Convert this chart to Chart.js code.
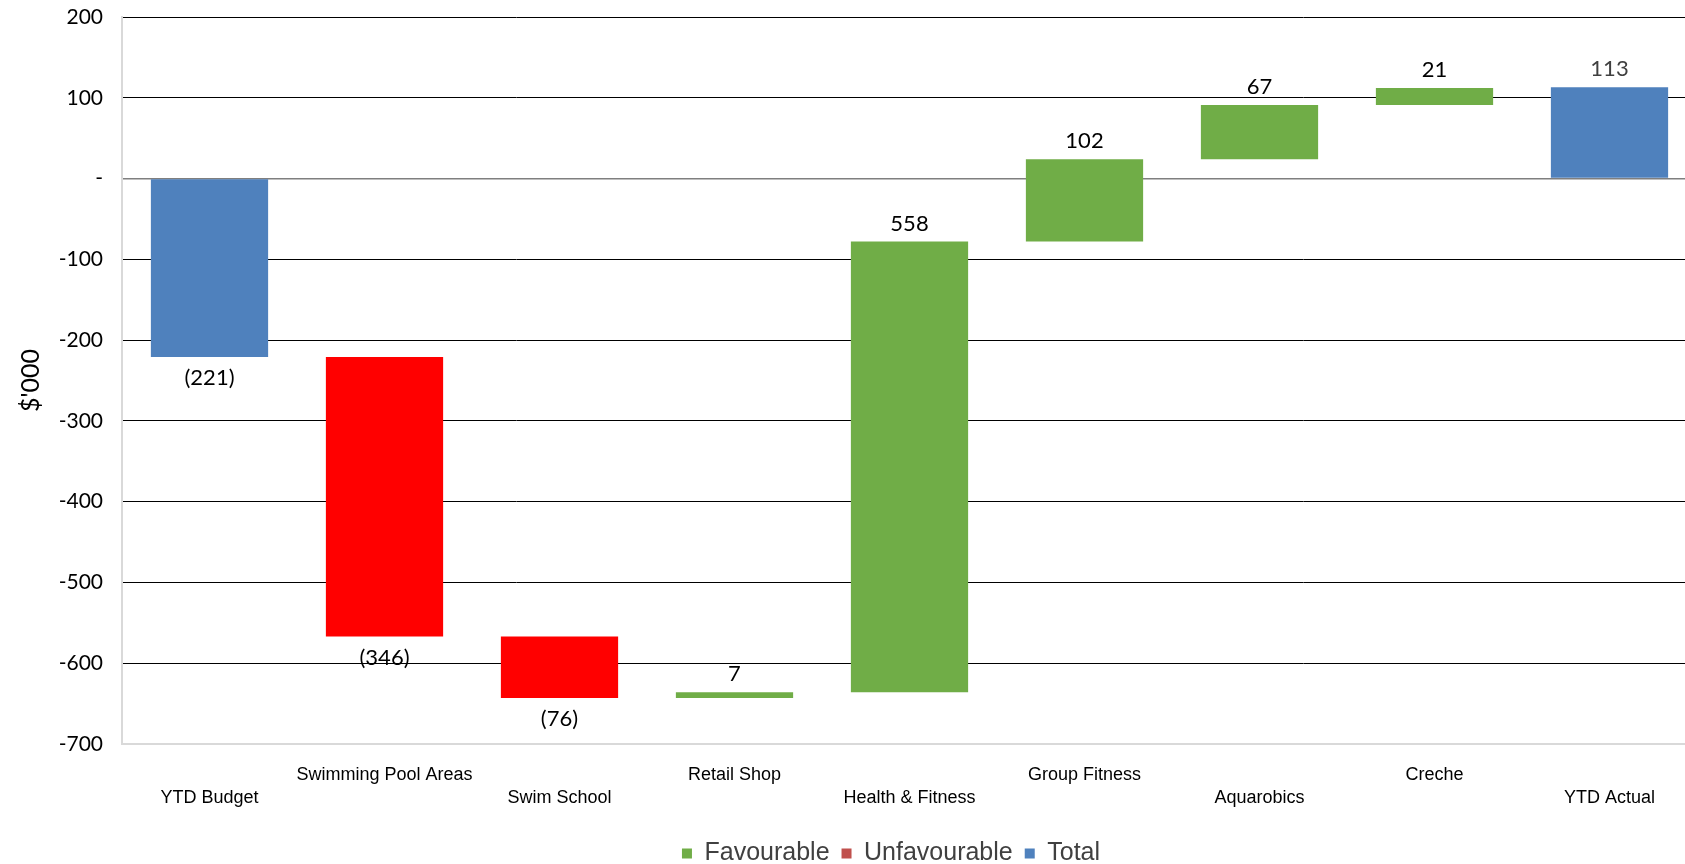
<!DOCTYPE html>
<html>
<head>
<meta charset="utf-8">
<script src="https://cdn.jsdelivr.net/npm/chart.js@4/dist/chart.umd.min.js"></script>
<style>
  html, body { margin: 0; padding: 0; background: #fff; overflow: hidden; }
  canvas { display: block; }
</style>
</head>
<body>
<canvas id="waterfall" width="1782" height="864"></canvas>
<script>
// categories and variances ($'000)
const categories = ['YTD Budget', 'Swimming Pool Areas', 'Swim School', 'Retail Shop',
  'Health & Fitness', 'Group Fitness', 'Aquarobics', 'Creche', 'YTD Actual'];
const variances = [-221, -346, -76, 7, 558, 102, 67, 21, 113];
const kinds = ['total', 'unfav', 'unfav', 'fav', 'fav', 'fav', 'fav', 'fav', 'total'];
const yTicks = { min: -700, max: 200, step: 100 };

const GREEN = '#70AD47', RED = '#FF0000', BLUE = '#4F81BD';

// build floating bars [start, end] from running total
let running = 0;
const favData = [], unfavData = [], totalData = [];
variances.forEach((v, i) => {
  let bar;
  if (kinds[i] === 'total') {
    bar = [0, v];
    running = v;
  } else {
    bar = [running, running + v];
    running += v;
  }
  favData.push(kinds[i] === 'fav' ? bar : null);
  unfavData.push(kinds[i] === 'unfav' ? bar : null);
  totalData.push(kinds[i] === 'total' ? bar : null);
});

// staggered x labels: odd ones on the upper row
const xLabels = categories.map((c, i) => i % 2 === 1 ? [c, ''] : ['', c]);

function fmt(v) {
  return v < 0 ? '(' + Math.abs(v) + ')' : String(v);
}

// draws the value labels above/below each bar
const valueLabels = {
  id: 'valueLabels',
  afterDatasetsDraw(chart) {
    const ctx = chart.ctx;
    ctx.save();
    ctx.font = '22px Lato';
    ctx.textAlign = 'center';
    ctx.textBaseline = 'middle';
    chart.data.datasets.forEach((ds, di) => {
      const meta = chart.getDatasetMeta(di);
      meta.data.forEach((bar, i) => {
        if (ds.data[i] == null) return;
        const v = variances[i];
        const top = Math.min(bar.y, bar.base);
        const bottom = Math.max(bar.y, bar.base);
        ctx.fillStyle = i === categories.length - 1 ? '#404040' : '#000';
        if (v >= 0) ctx.fillText(fmt(v), bar.x, top - 18);
        else ctx.fillText(fmt(v), bar.x, bottom + 21);
      });
    });
    ctx.restore();
  }
};

// the original chart was cropped on the right, so the legend sits right of the canvas middle
const legendCenterX = 891;
const shiftLegend = {
  id: 'shiftLegend',
  afterLayout(chart) {
    const lg = chart.legend;
    const dx = legendCenterX - (lg.left + lg.right) / 2;
    lg.left += dx;
    lg.right += dx;
  }
};

const barOpts = { grouped: false, categoryPercentage: 1, barPercentage: 0.67, borderWidth: 0 };

new Chart(document.getElementById('waterfall').getContext('2d'), {
  type: 'bar',
  data: {
    labels: xLabels,
    datasets: [
      Object.assign({ label: 'Favourable', data: favData, backgroundColor: GREEN }, barOpts),
      Object.assign({ label: 'Unfavourable', data: unfavData, backgroundColor: RED }, barOpts),
      Object.assign({ label: 'Total', data: totalData, backgroundColor: BLUE }, barOpts)
    ]
  },
  options: {
    responsive: false,
    animation: false,
    layout: { padding: { top: 17, right: 85, left: 0, bottom: -12 } },
    plugins: {
      tooltip: { enabled: false },
      legend: {
        position: 'bottom',
        labels: {
          font: { family: 'Liberation Sans', size: 25 },
          color: '#404040',
          boxWidth: 10,
          boxHeight: 10,
          padding: 12,
          generateLabels(chart) {
            const swatch = [GREEN, '#C0504D', BLUE];
            return chart.data.datasets.map((ds, i) => ({
              text: ds.label, fillStyle: swatch[i], strokeStyle: swatch[i],
              lineWidth: 0, hidden: false, datasetIndex: i, fontColor: '#404040'
            }));
          }
        }
      }
    },
    scales: {
      x: {
        grid: { display: false },
        border: { color: '#d9d9d9', width: 2 },
        afterFit(scale) { scale.height += 8; },
        ticks: {
          autoSkip: false,
          maxRotation: 0,
          color: '#000',
          padding: 12,
          font: { family: 'Liberation Sans', size: 18, lineHeight: 1.25 }
        }
      },
      y: {
        min: yTicks.min,
        max: yTicks.max,
        afterFit(scale) {
          scale.width = 122;
          scale.paddingTop = 0;
          scale.paddingBottom = 0;
        },
        border: { color: '#d9d9d9', width: 2 },
        grid: {
          drawTicks: false,
          color: ctx => ctx.tick.value === yTicks.min ? '#d9d9d9' : (ctx.tick.value === 0 ? '#7f7f7f' : '#000'),
          lineWidth: ctx => ctx.tick.value === 0 ? 1.5 : 1
        },
        ticks: {
          stepSize: yTicks.step,
          padding: 19,
          color: '#000',
          font: { family: 'Lato', size: 21 },
          callback: v => v === 0 ? '-' : v
        },
        title: {
          display: true,
          text: "$'000",
          color: '#000',
          font: { family: 'Lato', size: 25 },
          padding: { top: 16 }
        }
      }
    }
  },
  plugins: [valueLabels, shiftLegend]
});
</script>
</body>
</html>
